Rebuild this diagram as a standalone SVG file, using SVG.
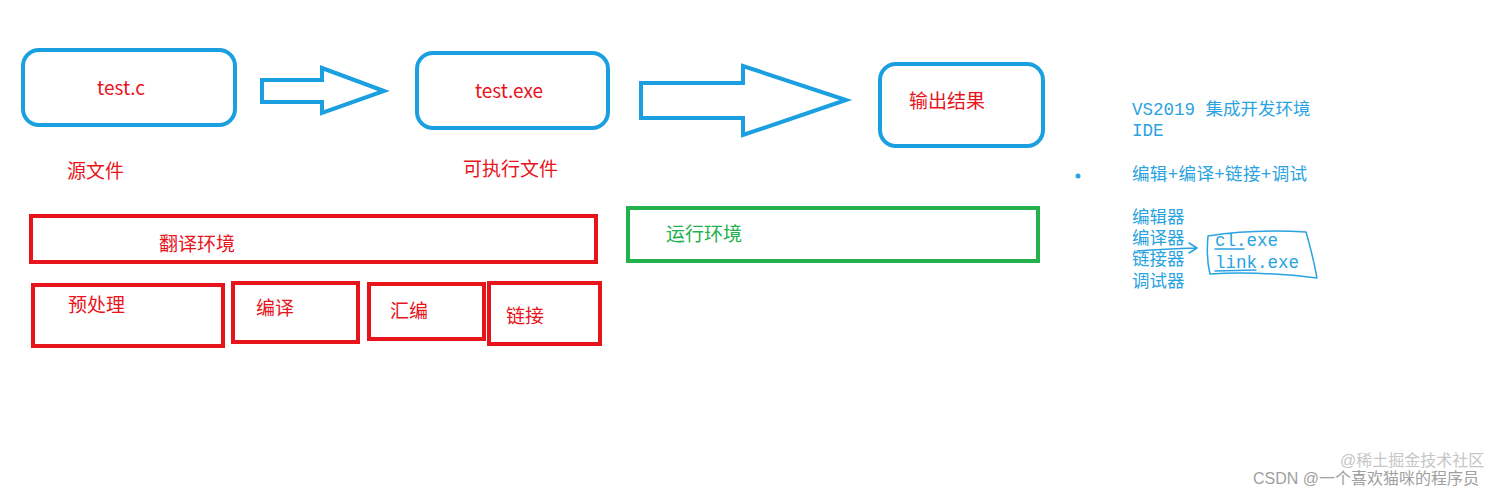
<svg xmlns="http://www.w3.org/2000/svg" width="1512" height="497" viewBox="0 0 1512 497">
<style>
.bb{fill:none;stroke:#1a9fe0;stroke-width:4}
.rb{fill:none;stroke:#e8141c;stroke-width:4}
.gb{fill:none;stroke:#22b14c;stroke-width:4}
.rt{font-family:"Microsoft YaHei","Noto Sans CJK SC",sans-serif;font-size:19px;fill:#e8141c}
.gt{font-family:"Microsoft YaHei","Noto Sans CJK SC",sans-serif;font-size:19px;fill:#22b14c}
.bt{font-family:"Liberation Mono","Noto Sans CJK SC",monospace;font-size:17.5px;fill:#2aa3e0}
.hand{fill:none;stroke:#2aa3e0;stroke-width:1.5;stroke-linecap:round;stroke-linejoin:round}
.wm{font-family:"Liberation Sans","Noto Sans CJK SC",sans-serif;font-size:16px}
</style>
<rect width="1512" height="497" fill="#ffffff"/>
<g id="connectors">
<polygon class="bb" points="262,80 322,80 322,68 384,91 322,113 322,102 262,102"/>
<polygon class="bb" points="641,83 743,83 743,66 846,100 743,135 743,118 641,118"/>
</g>
<g id="test-c">
<rect class="bb" x="23" y="50" width="212" height="75" rx="16"/>
<text class="rt" x="121" y="95" text-anchor="middle">test.c</text>
</g>
<g id="test-exe">
<rect class="bb" x="417" y="53" width="191" height="75" rx="16"/>
<text class="rt" x="509" y="98" text-anchor="middle">test.exe</text>
</g>
<g id="output">
<rect class="bb" x="880" y="64" width="163" height="82" rx="16"/>
<text class="rt" x="909" y="108">输出结果</text>
</g>
<g id="label-source">
<text class="rt" x="67" y="178">源文件</text>
</g>
<g id="label-exe">
<text class="rt" x="463" y="176">可执行文件</text>
</g>
<g id="translate-env">
<rect class="rb" x="31" y="216" width="565" height="46"/>
<text class="rt" x="159" y="251">翻译环境</text>
</g>
<g id="preprocess">
<rect class="rb" x="33" y="285" width="190" height="61"/>
<text class="rt" x="68" y="312">预处理</text>
</g>
<g id="compile">
<rect class="rb" x="233" y="283" width="125" height="59"/>
<text class="rt" x="256" y="315">编译</text>
</g>
<g id="assemble">
<rect class="rb" x="369" y="284" width="115" height="55"/>
<text class="rt" x="390" y="318">汇编</text>
</g>
<g id="link">
<rect class="rb" x="489" y="283" width="111" height="61"/>
<text class="rt" x="506" y="323">链接</text>
</g>
<g id="run-env">
<rect class="gb" x="628" y="208" width="410" height="53"/>
<text class="gt" x="666" y="241">运行环境</text>
</g>
<g id="ide-notes">
<text class="bt" x="1132" y="115">VS2019 集成开发环境</text>
<text class="bt" x="1132" y="136">IDE</text>
<circle cx="1078" cy="176" r="2.5" fill="#2aa3e0"/>
<text class="bt" x="1132" y="180" textLength="175" lengthAdjust="spacing">编辑+编译+链接+调试</text>
<text class="bt" x="1132" y="223">编辑器</text>
<text class="bt" x="1132" y="244">编译器</text>
<text class="bt" x="1132" y="265">链接器</text>
<text class="bt" x="1132" y="287">调试器</text>
<path class="hand" d="M1137,251 Q1165,249 1197,248 M1189,243 L1197,248 L1189,253"/>
<path class="hand" d="M1208,236 Q1206,258 1210,274 Q1260,271 1317,278 Q1313,256 1306,232 Q1255,229 1208,236"/>
<text class="bt" x="1215" y="246">cl.exe</text>
<text class="bt" x="1215" y="268">link.exe</text>
<path class="hand" d="M1215,249 L1244,249 M1215,271 L1256,270"/>
</g>
<g id="watermark">
<text class="wm" x="1253" y="484" fill="#a0a0a0">CSDN @一个喜欢猫咪的程序员</text>
<text class="wm" x="1340" y="466" font-size="15" fill="#b8b8b8" opacity="0.8">@稀土掘金技术社区</text>
</g>
</svg>
